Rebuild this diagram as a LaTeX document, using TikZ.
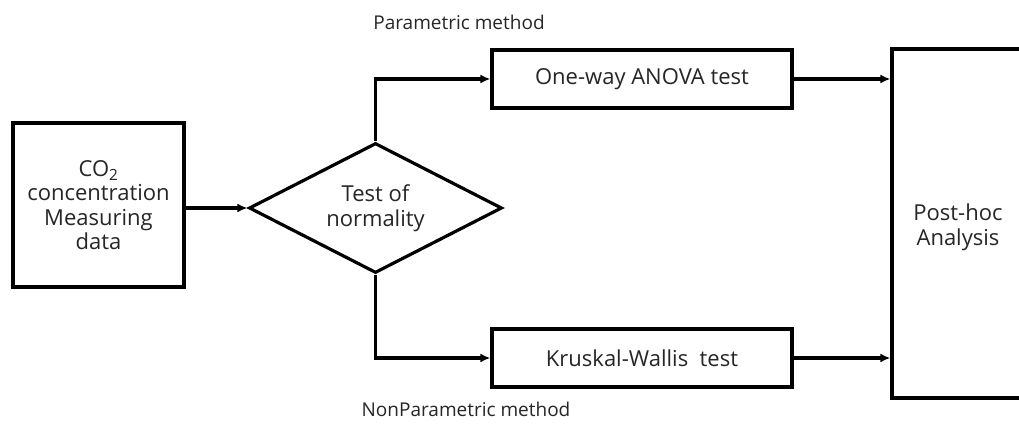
\documentclass[tikz,border=0pt]{standalone}
\usepackage{fontspec}
\setmainfont{Open Sans}
\usetikzlibrary{shapes.geometric,arrows.meta}
\begin{document}
\begin{tikzpicture}[x=1pt,y=-1pt,
  every node/.style={font=\fontsize{22}{24.5}\selectfont, text=black!85},
  box/.style={draw=black, line width=3.2pt, rectangle, inner sep=0pt, align=center},
  decision/.style={draw=black, line width=3.2pt, diamond, inner sep=0pt, align=center,
    minimum width=253pt, minimum height=130pt, aspect=1.95},
  link/.style={line width=3.2pt, -{Latex[length=10pt,width=9pt]}},
  caption/.style={inner sep=0pt, font=\fontsize{19}{22}\selectfont}]
\useasboundingbox (0,0) rectangle (1019,427);
\clip (0,0) rectangle (1019,427);
\fill[white] (0,0) rectangle (1019,427);

\node[box, minimum width=171pt, minimum height=164pt] (src) at (98.5,205)
  {CO\textsubscript{2}\\concentration\\Measuring\\data};
\node[decision] (test) at (375.5,208) {Test of\\normality};
\node[box, minimum width=300pt, minimum height=58pt] (anova) at (642,79) {One-way ANOVA test};
\node[box, minimum width=300pt, minimum height=58pt] (kw) at (642,358) {Kruskal-Wallis~ test};
\node[box, minimum width=132pt, minimum height=349pt] (post) at (958,223.5) {\\Post-hoc\\Analysis};

\node[caption] (par) at (459,22) {Parametric method};
\node[caption] (npar) at (466,409) {NonParametric method};

\draw[link] (src.east |- test.west) -- (test.west);
\draw[link] (test.north) |- (anova.west);
\draw[link] (test.south) |- (kw.west);
\draw[link] (anova.east) -- (post.west |- anova.east);
\draw[link] (kw.east) -- (post.west |- kw.east);
\end{tikzpicture}
\end{document}
